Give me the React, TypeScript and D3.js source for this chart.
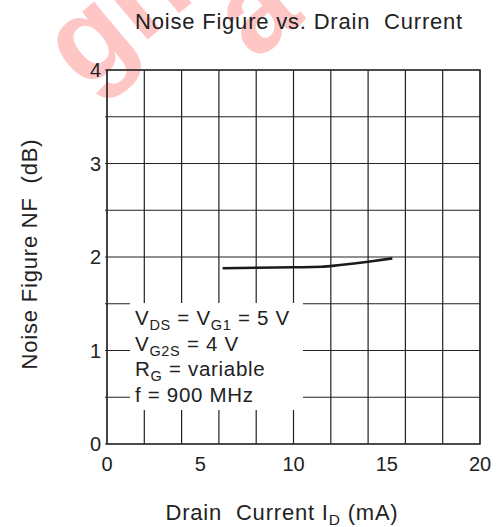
import React from "react";
import * as d3 from "d3";

// drain current (mA) vs noise figure (dB)
const current = [6.2, 8, 10, 11.5, 12.5, 14, 15.3];
const noiseFigure = [1.88, 1.885, 1.89, 1.895, 1.915, 1.95, 1.985];

const xTicks = [0, 5, 10, 15, 20];
const yTicks = [0, 1, 2, 3, 4];

const legendLines = [
  [["V", ""], ["DS", "sub"], [" = V", ""], ["G1", "sub"], [" = 5 V", ""]],
  [["V", ""], ["G2S", "sub"], [" = 4 V", ""]],
  [["R", ""], ["G", "sub"], [" = variable", ""]],
  [["f = 900 MHz", ""]],
];

const font = "'Liberation Sans', Arial, Helvetica, sans-serif";

const App: React.FC = () => {
  const width = 500;
  const height = 527;
  const margin = { top: 70, right: 20, bottom: 83, left: 107 };

  const x = d3.scaleLinear().domain([0, 20]).range([margin.left, width - margin.right]);
  const y = d3.scaleLinear().domain([0, 4]).range([height - margin.bottom, margin.top]);

  const line = d3
    .line<number>()
    .x((d) => x(d))
    .y((_, i) => y(noiseFigure[i]))
    .curve(d3.curveMonotoneX);

  const xGrid = x.ticks(8);
  const yGrid = y.ticks(8);

  return (
    <svg
      width={width}
      height={height}
      style={{ position: "absolute", left: 0, top: 0, background: "#fff" }}
      fontFamily={font}
    >
      {/* watermark, mostly off the top edge */}
      <g fill="#ff0000" opacity={0.22} fontWeight="bold" fontSize={120}>
        <text x={85} y={92} transform="rotate(-40 85 92)">
          gn
        </text>
        <text x={255} y={62} transform="rotate(-40 255 62)">
          a
        </text>
      </g>

      {/* grid */}
      {xGrid.map((t) => (
        <line key={"gx" + t} x1={x(t)} x2={x(t)} y1={y(0)} y2={y(4)} stroke="#222" strokeWidth={1.2} />
      ))}
      {yGrid.map((t) => (
        <line key={"gy" + t} x1={x(0) - 2} x2={x(20)} y1={y(t)} y2={y(t)} stroke="#222" strokeWidth={1.2} />
      ))}

      {/* legend box hides the grid */}
      <rect x={130} y={303} width={173} height={107} fill="#fff" />

      <rect
        x={x(0)}
        y={y(4)}
        width={x(20) - x(0)}
        height={y(0) - y(4)}
        fill="none"
        stroke="#333"
        strokeWidth={1.5}
      />

      <path d={line(current) ?? ""} fill="none" stroke="#1a1a1a" strokeWidth={2.6} />

      {/* tick labels */}
      {yTicks.map((t) => (
        <text key={"ty" + t} x={x(0) - 6} y={y(t) + 7} textAnchor="end" fontSize={20} fill="#222">
          {t}
        </text>
      ))}
      {xTicks.map((t) => (
        <text key={"tx" + t} x={x(t)} y={471} textAnchor="middle" fontSize={20} fill="#222">
          {t}
        </text>
      ))}

      {/* legend */}
      {legendLines.map((parts, i) => (
        <text key={"lg" + i} x={135} y={325 + i * 25.7} fontSize={20.5} letterSpacing={0.7} fill="#222">
          {parts.map(([s, kind], j) =>
            kind === "sub" ? (
              <tspan key={j} fontSize={14.5} dy={5}>
                {s}
              </tspan>
            ) : (
              <tspan key={j} dy={j > 0 && parts[j - 1][1] === "sub" ? -5 : 0}>
                {s}
              </tspan>
            )
          )}
        </text>
      ))}

      {/* title and axis labels */}
      <text x={299} y={29} textAnchor="middle" fontSize={22} letterSpacing={0.8} fill="#222">
        Noise Figure vs. Drain{"\u00a0\u00a0"}Current
      </text>
      <text x={282} y={520} textAnchor="middle" fontSize={22} letterSpacing={0.8} fill="#222">
        Drain{"\u00a0\u00a0"}Current I
        <tspan fontSize={15.5} dy={5}>
          D
        </tspan>
        <tspan dy={-5}> (mA)</tspan>
      </text>
      <text
        transform="translate(37 254) rotate(-90)"
        textAnchor="middle"
        fontSize={22}
        letterSpacing={0.8}
        fill="#222"
      >
        Noise Figure NF{"\u00a0\u00a0"}(dB)
      </text>
    </svg>
  );
};

export default App;
